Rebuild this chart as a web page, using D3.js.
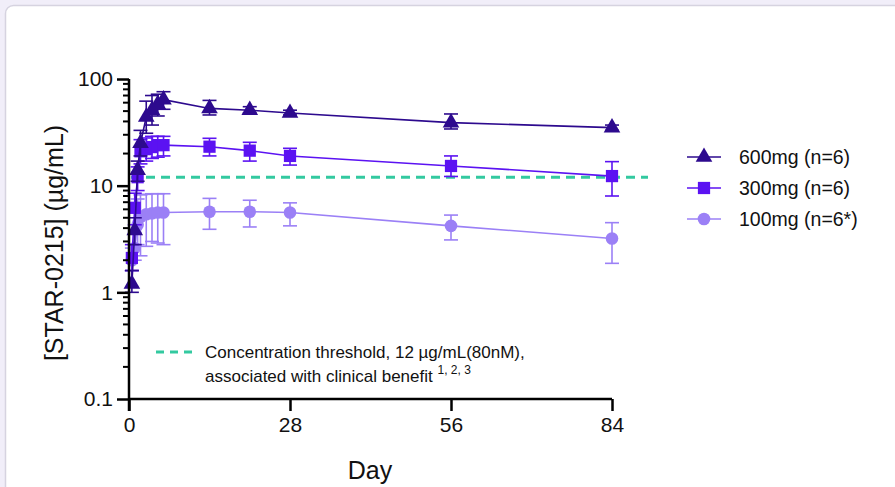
<!DOCTYPE html>
<html><head><meta charset="utf-8">
<script src="https://cdn.jsdelivr.net/npm/d3@7"></script>
<style>
html,body{margin:0;padding:0;background:#f1eef9;}
svg{display:block;font-family:"Liberation Sans",Arial,sans-serif;}
</style></head>
<body><svg id="c" width="895" height="487"></svg>
<script>
const days = [0.5, 1, 1.5, 2, 3, 4, 5, 6, 14, 21, 28, 56, 84];
const mean600 = [1.2, 3.8, 14, 25, 44, 51, 58, 64, 53, 51, 48, 39, 35];
const hi600   = [1.6, 5.0, 17, 33, 62, 70, 72, 76, 63, 55, 51, 47, 37];
const lo600   = [1.0, 2.8, 11, 19, 31, 37, 45, 52, 46, 48, 46, 34, 33];
const mean300 = [2.1, 6.2, 12, 21, 22, 23, 24, 24, 23.2, 21.3, 19, 15.3, 12.3];
const hi300   = [2.8, 8.5, 15, 27, 28, 29, 29, 29, 27.8, 25.5, 22.4, 19, 16.8];
const lo300   = [1.6, 4.3, 9, 16, 17, 18, 18.5, 19, 19, 17, 15.6, 12.2, 8.0];
const mean100 = [2.0, 2.6, 4.3, 5.1, 5.4, 5.5, 5.6, 5.6, 5.7, 5.7, 5.6, 4.2, 3.2];
const hi100   = [2.6, 3.6, 7.5, 8.2, 8.3, 8.4, 8.4, 8.4, 7.6, 7.3, 6.9, 5.3, 4.5];
const lo100   = [1.6, 2.0, 2.8, 2.2, 2.7, 3.0, 2.9, 2.8, 3.9, 4.1, 4.2, 3.1, 1.87];
const seriesNames = ["600mg (n=6)", "300mg (n=6)", "100mg (n=6*)"];
const xTicks = [0, 28, 56, 84];
const yTicks = [0.1, 1, 10, 100];
const threshold = 12;

const svg = d3.select("#c");
// card background
svg.append("rect").attr("x",5.5).attr("y",5.5).attr("width",920).attr("height",520)
  .attr("rx",8).attr("fill","#ffffff").attr("stroke","#d6d3e0").attr("stroke-width",1.5);

const x = d3.scaleLinear().domain([0,84]).range([129,612]);
const y = d3.scaleLog().domain([0.1,100]).range([399,79]);

const series = [
  {name: seriesNames[0], mean: mean600, hi: hi600, lo: lo600, color:"#2d0a8e", line:"#2d0a8e", sym: d3.symbolTriangle, size: 120},
  {name: seriesNames[1], mean: mean300, hi: hi300, lo: lo300, color:"#5b12f2", line:"#5b12f2", sym: d3.symbolSquare, size: 150},
  {name: seriesNames[2], mean: mean100, hi: hi100, lo: lo100, color:"#9b80f6", line:"#9b80f6", sym: d3.symbolCircle, size: 125}
];

// threshold line
svg.append("line").attr("x1",x(0)+2).attr("x2",648).attr("y1",y(threshold)).attr("y2",y(threshold))
  .attr("stroke","#33c9a0").attr("stroke-width",3).attr("stroke-dasharray","9,6");

// series (draw light first)
[...series].reverse().forEach(s=>{
  const g = svg.append("g");
  const pts = days.map((d,i)=>({d, m:s.mean[i], h:s.hi[i], l:s.lo[i]}));
  g.append("path").datum(pts).attr("fill","none").attr("stroke",s.line).attr("stroke-width",1.6)
    .attr("d", d3.line().x(p=>x(p.d)).y(p=>y(p.m)));
  const eb = g.selectAll("g.eb").data(pts).join("g").attr("stroke",s.color).attr("stroke-width",1.6);
  eb.append("line").attr("x1",p=>x(p.d)).attr("x2",p=>x(p.d)).attr("y1",p=>y(p.h)).attr("y2",p=>y(p.l));
  eb.append("line").attr("x1",p=>x(p.d)-7).attr("x2",p=>x(p.d)+7).attr("y1",p=>y(p.h)).attr("y2",p=>y(p.h));
  eb.append("line").attr("x1",p=>x(p.d)-7).attr("x2",p=>x(p.d)+7).attr("y1",p=>y(p.l)).attr("y2",p=>y(p.l));
  g.selectAll("path.m").data(pts).join("path").attr("class","m")
    .attr("transform",p=>`translate(${x(p.d)},${y(p.m)})`)
    .attr("d", d3.symbol().type(s.sym).size(s.size)).attr("fill",s.color);
});

// axes
const xAxis = svg.append("g").attr("transform","translate(0,399)")
  .call(d3.axisBottom(x).tickValues(xTicks).tickSize(12).tickPadding(6).tickFormat(d3.format("d")));
const yAxis = svg.append("g").attr("transform","translate(129,0)")
  .call(d3.axisLeft(y).tickValues(yTicks).tickSize(12).tickPadding(4).tickFormat(d=>String(d)));
// minor ticks
const minor = [];
[0.1,1,10].forEach(b=>{for(let k=2;k<=9;k++) minor.push(b*k);});
yAxis.selectAll("line.minor").data(minor).join("line").attr("class","minor")
  .attr("x1",-6).attr("x2",0).attr("y1",d=>y(d)).attr("y2",d=>y(d))
  .attr("stroke","#000").attr("stroke-width",2);
[xAxis,yAxis].forEach(a=>{
  a.select(".domain").attr("stroke","#000").attr("stroke-width",2.5);
  a.selectAll(".tick line").attr("stroke","#000").attr("stroke-width",2.5);
  a.selectAll(".tick text").attr("fill","#111").attr("font-size",21).attr("font-family","Liberation Sans, Arial, sans-serif");
});
xAxis.select(".domain").attr("d",`M${x(0)},0H${x(84)}`);
yAxis.select(".domain").attr("d",`M0,${y(100)}V${y(0.1)+12}`);

// axis titles
svg.append("text").attr("x",370).attr("y",479).attr("text-anchor","middle")
  .attr("font-size",25).attr("fill","#111").text("Day");
svg.append("text").attr("transform","translate(63,243) rotate(-90)").attr("text-anchor","middle")
  .attr("font-size",25).attr("fill","#111").text("[STAR-0215] (µg/mL)");

// legend
const lg = svg.append("g");
series.forEach((s,i)=>{
  const yy = [157,188,219][i];
  lg.append("line").attr("x1",687).attr("x2",721).attr("y1",yy).attr("y2",yy)
    .attr("stroke",s.line).attr("stroke-width",1.6);
  lg.append("path").attr("transform",`translate(704,${yy})`)
    .attr("d", d3.symbol().type(s.sym).size(s.size)).attr("fill",s.color);
  lg.append("text").attr("x",739).attr("y",yy+7).attr("font-size",19.5).attr("fill","#111").text(s.name);
});

// threshold annotation
svg.append("line").attr("x1",156).attr("x2",196).attr("y1",352).attr("y2",352)
  .attr("stroke","#33c9a0").attr("stroke-width",3).attr("stroke-dasharray","8,6");
svg.append("text").attr("x",205).attr("y",358).attr("font-size",17).attr("fill","#111")
  .text("Concentration threshold, 12 µg/mL(80nM),");
const t2 = svg.append("text").attr("x",205).attr("y",382).attr("font-size",17).attr("fill","#111");
t2.append("tspan").text("associated with clinical benefit ");
t2.append("tspan").attr("font-size",12).attr("dy",-8).text("1, 2, 3");
</script></body></html>
